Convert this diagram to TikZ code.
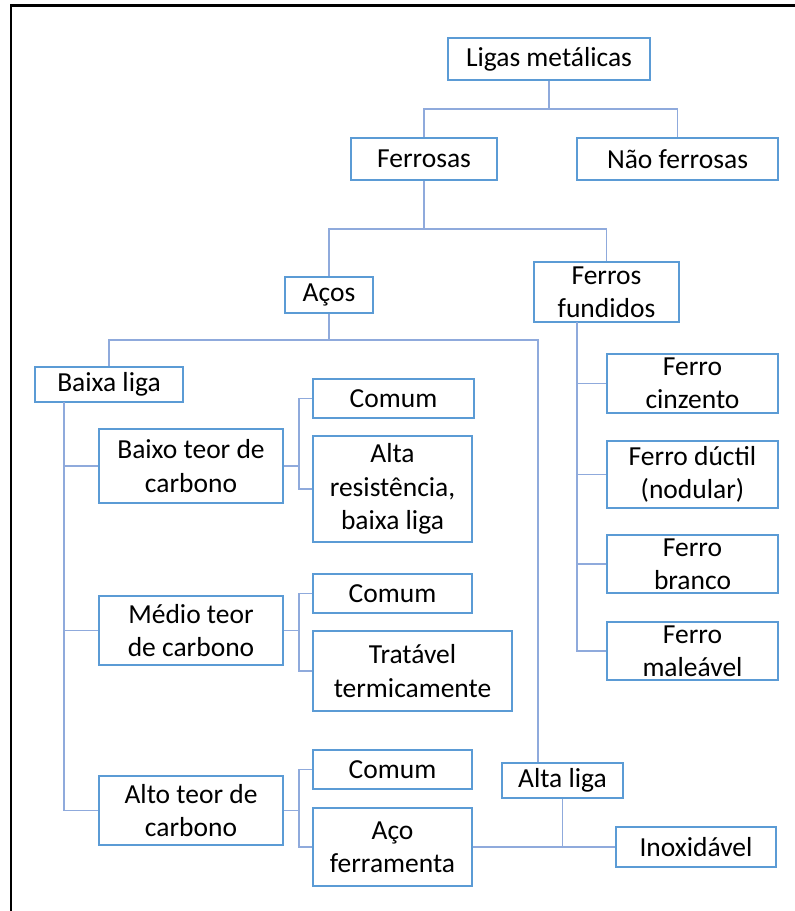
\documentclass[tikz,border=0pt]{standalone}
\usepackage{fontspec}
\setmainfont{Carlito}
\definecolor{boxblue}{RGB}{91,155,213}
\definecolor{linkblue}{RGB}{143,170,220}
\begin{document}
\begin{tikzpicture}[x=0.5pt,y=-0.5pt,
  bx/.style 2 args={draw=boxblue,line width=0.8pt,fill=white,inner sep=0pt,align=center,
    minimum width=#1*0.5pt,minimum height=#2*0.5pt,
    font=\fontsize{13.75pt}{16.6pt}\selectfont},
  link/.style={draw=linkblue,line width=0.6pt}]
\useasboundingbox (0,0) rectangle (795,911);
\draw[line width=1.3pt,black] (795,5.5) -- (11,5.5) -- (11,911);
% nodes
\node[bx={202}{42}] (lm) at (549,59) {Ligas metálicas};
\node[bx={146}{42}] (fer) at (424,159) {Ferrosas};
\node[bx={201}{42}] (nfer) at (677.5,159) {Não ferrosas};
\node[bx={88}{36}] (aco) at (329,295) {Aços};
\node[bx={145}{60}] (ff) at (606.5,292) {Ferros\\fundidos};
\node[bx={148}{35}] (bl) at (109,384.5) {Baixa liga};
\node[bx={184}{74}] (bt) at (191,466) {Baixo teor de\\carbono};
\node[bx={184}{69}] (mt) at (191,630.5) {Médio teor\\de carbono};
\node[bx={184}{69}] (at) at (191,810.5) {Alto teor de\\carbono};
\node[bx={161}{39}] (c1) at (393.5,398.5) {Comum};
\node[bx={159}{106}] (ar) at (392.5,489) {Alta\\resistência,\\baixa liga};
\node[bx={159}{39}] (c2) at (392.5,593.5) {Comum};
\node[bx={199}{80}] (tt) at (412.5,671) {Tratável\\termicamente};
\node[bx={159}{39}] (c3) at (392.5,769.5) {Comum};
\node[bx={159}{78}] (af) at (392.5,847) {Aço\\ferramenta};
\node[bx={121}{35}] (al) at (562.5,780.5) {Alta liga};
\node[bx={160}{40}] (inox) at (696,847) {Inoxidável};
\node[bx={171}{59}] (fc) at (692.5,383.5) {Ferro\\cinzento};
\node[bx={171}{67}] (fd) at (692.5,474.5) {Ferro dúctil\\(nodular)};
\node[bx={171}{58}] (fb) at (692.5,564) {Ferro\\branco};
\node[bx={171}{58}] (fm) at (692.5,651) {Ferro\\maleável};
% junctions
\coordinate (j1) at (549,109);
\coordinate (j2) at (424,229);
\coordinate (j3) at (329,340);
\coordinate (j3b) at (538,340);
\coordinate (sp) at (64,402);
\coordinate (k1) at (299,466);
\coordinate (k2) at (299,630.5);
\coordinate (k3) at (299,810.5);
\coordinate (f0) at (577,322);
\coordinate (k4) at (al.south |- af.east);
% connectors
\begin{scope}[on background layer/.try]
\path[link] (lm.south) -- (j1);
\path[link] (fer.north) |- (j1) -| (nfer.north);
\path[link] (fer.south) -- (j2);
\path[link] (aco.north) |- (j2) -| (ff.north);
\path[link] (aco.south) -- (j3);
\path[link] (bl.north) |- (j3) -- (j3b) -- (j3b |- al.north);
\path[link] (sp) |- (at.west);
\path[link] (sp |- bt.west) -- (bt.west);
\path[link] (sp |- mt.west) -- (mt.west);
\path[link] (bt.east) -- (k1);
\path[link] (c1.west) -| (k1) |- (ar.west);
\path[link] (mt.east) -- (k2);
\path[link] (c2.west) -| (k2) |- (tt.west);
\path[link] (at.east) -- (k3);
\path[link] (c3.west) -| (k3) |- (af.west);
\path[link] (al.south) -- (k4);
\path[link] (af.east) -- (inox.west);
\path[link] (f0) |- (fm.west);
\path[link] (f0 |- fc.west) -- (fc.west);
\path[link] (f0 |- fd.west) -- (fd.west);
\path[link] (f0 |- fb.west) -- (fb.west);
\end{scope}
\end{tikzpicture}
\end{document}
